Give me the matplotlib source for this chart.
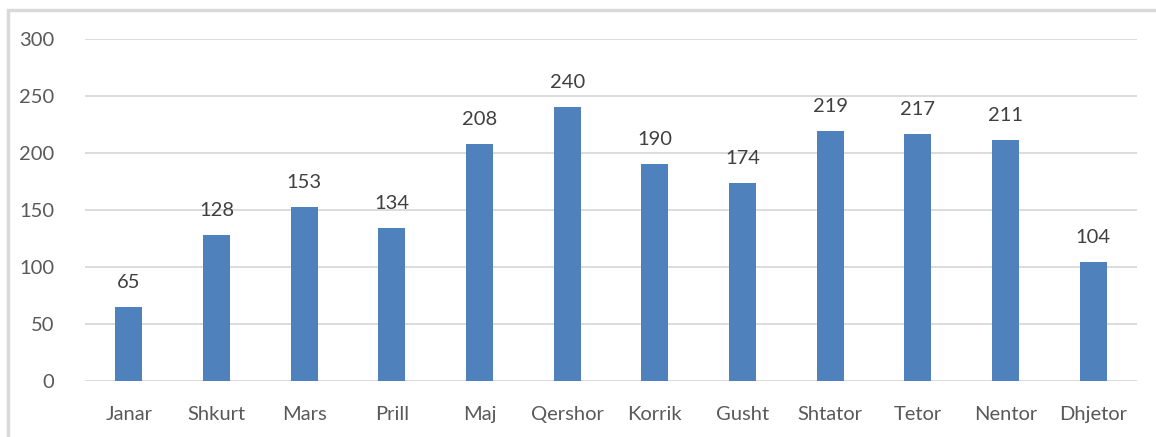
import matplotlib.pyplot as plt
from matplotlib.patches import Rectangle

months = ['Janar', 'Shkurt', 'Mars', 'Prill', 'Maj', 'Qershor', 'Korrik',
          'Gusht', 'Shtator', 'Tetor', 'Nentor', 'Dhjetor']
values = [65, 128, 153, 134, 208, 240, 190, 174, 219, 217, 211, 104]

plt.rcParams['font.family'] = ['Lato', 'DejaVu Sans']
text_color = '#595959'

fig = plt.figure(figsize=(11.56, 4.37), dpi=100)
ax = fig.add_axes([85 / 1156, 1 - 381 / 437, (1137 - 85) / 1156, (381 - 39) / 437])

# frame around the chart
fig.patches.append(Rectangle((8 / 1156, -0.1), 1.2, 1 - 10 / 437 + 0.1,
                             transform=fig.transFigure, fill=False,
                             edgecolor='#D9D9D9', linewidth=2.5))

x = range(len(months))
bars = ax.bar(x, values, width=0.31, color='#4F81BD', zorder=3)
for b, v in zip(bars, values):
    ax.text(b.get_x() + b.get_width() / 2, v + 14, str(v), ha='center',
            va='bottom', fontsize=14.5, color='#404040')

ax.set_xlim(-0.5, len(months) - 0.5)
ax.set_ylim(0, 300)
ax.set_yticks(range(0, 301, 50))
ax.set_xticks(list(x))
ax.set_xticklabels(months)
ax.grid(axis='y', color='#D9D9D9', linewidth=1.3, zorder=0)
for s in ax.spines.values():
    s.set_visible(False)
ax.tick_params(length=0, labelsize=14.5, labelcolor=text_color)
ax.tick_params(axis='y', pad=22)
ax.tick_params(axis='x', pad=18)

fig.savefig('out.png', dpi=100)
